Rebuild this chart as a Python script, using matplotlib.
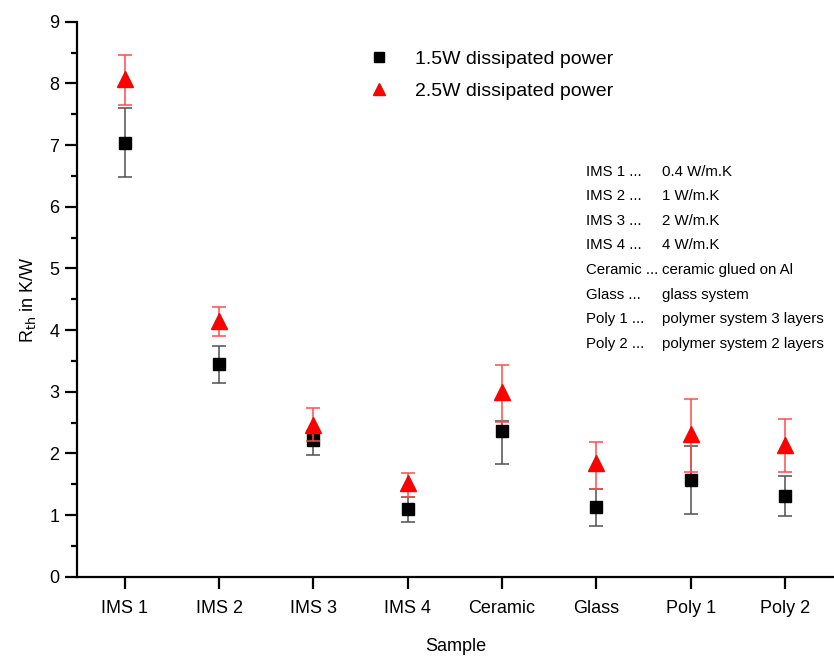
import numpy as np
import matplotlib
matplotlib.use("Agg")
import matplotlib.pyplot as plt
from matplotlib.ticker import MultipleLocator
from matplotlib.lines import Line2D

plt.rcParams["font.family"] = ["Liberation Sans", "DejaVu Sans"]

# =====================
# DATA
# =====================
samples = ["IMS 1", "IMS 2", "IMS 3", "IMS 4", "Ceramic", "Glass", "Poly 1", "Poly 2"]

p15_val = [7.04, 3.45, 2.22, 1.10, 2.37, 1.13, 1.57, 1.31]
p15_low = [6.49, 3.15, 1.98, 0.89, 1.83, 0.83, 1.02, 0.99]
p15_high = [7.60, 3.75, 2.36, 1.30, 2.52, 1.43, 2.12, 1.64]

p25_val = [8.07, 4.15, 2.46, 1.52, 3.00, 1.85, 2.32, 2.14]
p25_low = [7.65, 3.91, 2.20, 1.30, 2.51, 1.43, 1.70, 1.70]
p25_high = [8.46, 4.38, 2.74, 1.69, 3.44, 2.19, 2.89, 2.56]

notes_left = ["IMS 1 ...", "IMS 2 ...", "IMS 3 ...", "IMS 4 ...",
              "Ceramic ...", "Glass ...", "Poly 1 ...", "Poly 2 ..."]
notes_right = ["0.4 W/m.K", "1 W/m.K", "2 W/m.K", "4 W/m.K",
               "ceramic glued on Al", "glass system",
               "polymer system 3 layers", "polymer system 2 layers"]

# =====================
# PLOT
# =====================
fig = plt.figure(figsize=(8.34, 6.57), dpi=100)
ax = fig.add_axes([0.092, 0.122, 0.908, 0.845])

x = np.arange(len(samples))

def yerr(val, low, high):
    val = np.array(val)
    return [val - np.array(low), np.array(high) - val]

ax.errorbar(x, p15_val, yerr=yerr(p15_val, p15_low, p15_high), fmt="s",
            color="black", ecolor="#505050", elinewidth=1.1, capsize=5,
            capthick=1.1, markersize=9, zorder=3)
ax.errorbar(x, p25_val, yerr=yerr(p25_val, p25_low, p25_high), fmt="^",
            color="#ff0000", ecolor="#ff4a4a", elinewidth=1.1, capsize=5,
            capthick=1.1, markersize=11, zorder=4)

ax.set_xlim(-0.51, 7.52)
ax.set_ylim(0, 9)
ax.set_xticks(x)
ax.set_xticklabels(samples)
ax.yaxis.set_major_locator(MultipleLocator(1))
ax.yaxis.set_minor_locator(MultipleLocator(0.5))

for side in ["top", "right"]:
    ax.spines[side].set_visible(False)
for side in ["left", "bottom"]:
    ax.spines[side].set_linewidth(1.6)

ax.tick_params(axis="both", which="major", direction="out", length=8.5,
               width=1.6, labelsize=13, pad=4)
ax.tick_params(axis="x", which="major", pad=8)
ax.tick_params(axis="y", which="minor", direction="out", length=4.5, width=1.6)

ax.set_xlabel("Sample", fontsize=13, labelpad=15)
ax.set_ylabel("R$_{\\rm th}$ in K/W", fontsize=13, labelpad=8)

handles = [
    Line2D([], [], marker="s", color="black", linestyle="none", markersize=7.5),
    Line2D([], [], marker="^", color="#ff0000", linestyle="none", markersize=8.5),
]
ax.legend(handles, ["1.5W dissipated power", "2.5W dissipated power"],
          loc="upper left", bbox_to_anchor=(0.36, 0.98), frameon=False,
          fontsize=14, handletextpad=1.3, labelspacing=0.75, handlelength=1.2)

for i, (l, r) in enumerate(zip(notes_left, notes_right)):
    yy = 0.730 - i * 0.0443
    ax.text(0.672, yy, l, transform=ax.transAxes, fontsize=10.8, va="center")
    ax.text(0.773, yy, r, transform=ax.transAxes, fontsize=10.8, va="center")

plt.savefig("out.png", dpi=100)
plt.close()
